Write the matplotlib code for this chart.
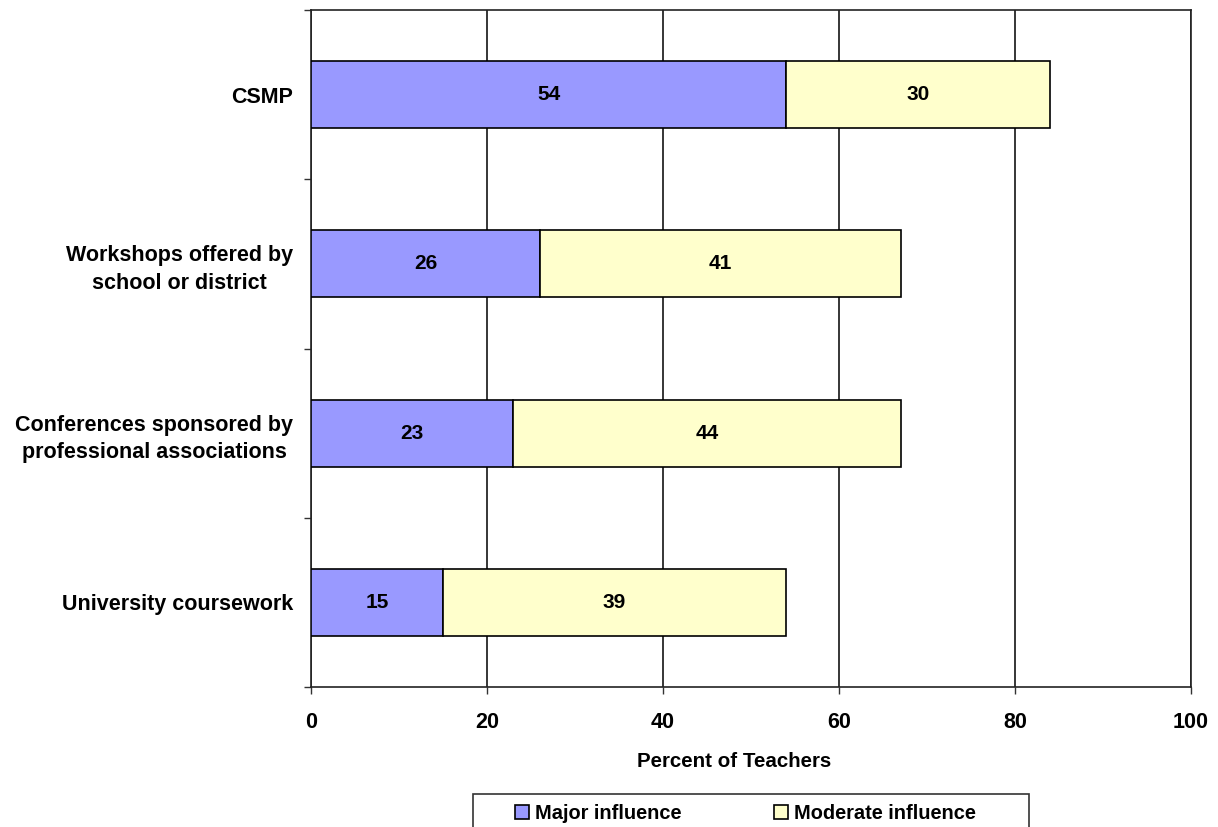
import matplotlib
matplotlib.use("Agg")
import matplotlib.pyplot as plt
from matplotlib.patches import Rectangle
import numpy as np

plt.rcParams['font.family'] = ['Liberation Sans', 'DejaVu Sans']
plt.rcParams['font.weight'] = 'bold'

categories = ["CSMP", "Workshops offered by\nschool or district",
              "Conferences sponsored by\nprofessional associations",
              "University coursework"]
major = [54, 26, 23, 15]
moderate = [30, 41, 44, 39]
series_names = ["Major influence", "Moderate influence"]
xticks = [0, 20, 40, 60, 80, 100]

W, H = 1218, 827
fig = plt.figure(figsize=(W / 100, H / 100), dpi=100)
ax = fig.add_axes([311 / W, 1 - 687 / H, 880 / W, 677 / H])

FS_CAT = 15.5
FS_TICK = 15.5
FS_BAR = 15
FS_TITLE = 14.8
FS_LEG = 14.4

y = np.arange(len(categories))
h = 0.396
b1 = ax.barh(y, major, height=h, color="#9999FF", edgecolor="black", linewidth=1.2,
             label=series_names[0], zorder=3)
b2 = ax.barh(y, moderate, left=major, height=h, color="#FFFFCC", edgecolor="black",
             linewidth=1.2, label=series_names[1], zorder=3)
ax.bar_label(b1, labels=[str(v) for v in major], label_type="center",
             fontsize=FS_BAR, fontweight="bold", zorder=4)
ax.bar_label(b2, labels=[str(v) for v in moderate], label_type="center",
             fontsize=FS_BAR, fontweight="bold", zorder=4)

ax.set_xlim(0, 100)
ax.set_ylim(len(categories) - 0.5, -0.5)
ax.set_xticks(xticks)
ax.set_xticklabels([str(t) for t in xticks], fontsize=FS_TICK, fontweight="bold")
ax.set_yticks(y)
ax.set_yticklabels(categories, fontsize=FS_CAT, fontweight="bold",
                   multialignment="center", linespacing=1.4)
ax.set_yticks(np.arange(len(categories) + 1) - 0.5, minor=True)
ax.tick_params(axis="y", which="major", length=0, pad=13)
ax.tick_params(axis="y", which="minor", length=5, width=1.0, direction="out", color="#333333")
ax.tick_params(axis="x", which="major", length=5, width=1.0, direction="out", pad=13,
               color="#333333")

ax.xaxis.grid(True, color="black", linewidth=1.1, zorder=0)
ax.set_axisbelow(True)
for s in ax.spines.values():
    s.set_linewidth(1.2)
    s.set_color("#222222")

ax.set_xlabel("Percent of Teachers", fontsize=FS_TITLE, fontweight="bold")
ax.xaxis.set_label_coords((734 - 311) / 880, (687 - 752) / 677)

# legend frame
fig.add_artist(Rectangle((473 / W, 1 - 860 / H), 556 / W, (860 - 794) / H,
                         transform=fig.transFigure, facecolor="white",
                         edgecolor="#333333", linewidth=1.2, zorder=1))
leg = fig.legend(handles=[b1, b2], labels=series_names, loc="upper left",
                 bbox_to_anchor=(515 / W, 1 - 804 / H), ncol=2, frameon=False,
                 fontsize=FS_LEG, borderpad=0, borderaxespad=0,
                 handlelength=0.72, handleheight=0.72, handletextpad=0.3,
                 columnspacing=4.6)
leg.set_zorder(5)
for t in leg.get_texts():
    t.set_fontweight("bold")

fig.savefig("out.png", dpi=100)
